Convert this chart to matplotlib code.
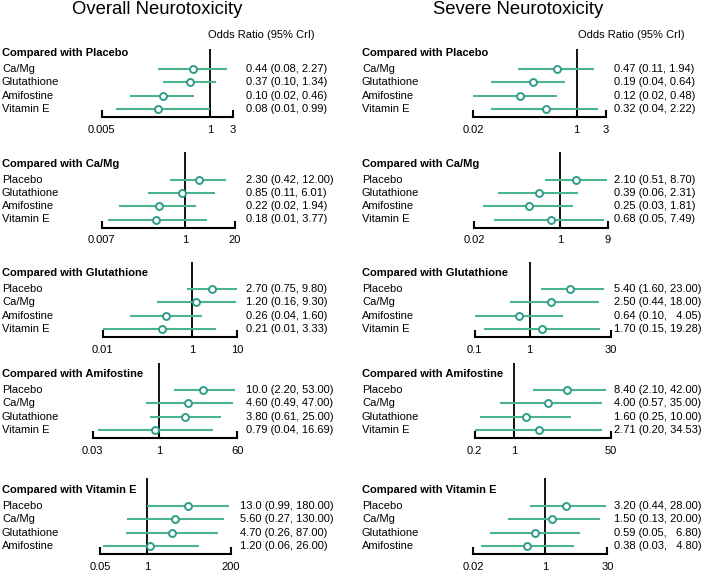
import matplotlib
matplotlib.use("Agg")
import matplotlib.pyplot as plt
import matplotlib.transforms as mtransforms

plt.rcParams['font.family'] = ['Liberation Sans', 'DejaVu Sans']

W, H = 708, 574
LINE_C = '#4cb48a'
MARK_C = '#2f9c8c'

# ---- data ----
overall_groups = ['Placebo', 'Ca/Mg', 'Glutathione', 'Amifostine', 'Vitamin E']
overall_rows = [
    ['Ca/Mg', 'Glutathione', 'Amifostine', 'Vitamin E'],
    ['Placebo', 'Glutathione', 'Amifostine', 'Vitamin E'],
    ['Placebo', 'Ca/Mg', 'Amifostine', 'Vitamin E'],
    ['Placebo', 'Ca/Mg', 'Glutathione', 'Vitamin E'],
    ['Placebo', 'Ca/Mg', 'Glutathione', 'Amifostine'],
]
overall_or = [
    [0.44, 0.37, 0.10, 0.08],
    [2.30, 0.85, 0.22, 0.18],
    [2.70, 1.20, 0.26, 0.21],
    [10.0, 4.60, 3.80, 0.79],
    [13.0, 5.60, 4.70, 1.20],
]
overall_lo = [
    [0.08, 0.10, 0.02, 0.01],
    [0.42, 0.11, 0.02, 0.01],
    [0.75, 0.16, 0.04, 0.01],
    [2.20, 0.49, 0.61, 0.04],
    [0.99, 0.27, 0.26, 0.06],
]
overall_hi = [
    [2.27, 1.34, 0.46, 0.99],
    [12.00, 6.01, 1.94, 3.77],
    [9.80, 9.30, 1.60, 3.33],
    [53.00, 47.00, 25.00, 16.69],
    [180.00, 130.00, 87.00, 26.00],
]
overall_txt = [
    ['0.44 (0.08, 2.27)', '0.37 (0.10, 1.34)', '0.10 (0.02, 0.46)', '0.08 (0.01, 0.99)'],
    ['2.30 (0.42, 12.00)', '0.85 (0.11, 6.01)', '0.22 (0.02, 1.94)', '0.18 (0.01, 3.77)'],
    ['2.70 (0.75, 9.80)', '1.20 (0.16, 9.30)', '0.26 (0.04, 1.60)', '0.21 (0.01, 3.33)'],
    ['10.0 (2.20, 53.00)', '4.60 (0.49, 47.00)', '3.80 (0.61, 25.00)', '0.79 (0.04, 16.69)'],
    ['13.0 (0.99, 180.00)', '5.60 (0.27, 130.00)', '4.70 (0.26, 87.00)', '1.20 (0.06, 26.00)'],
]
overall_ticks = [(0.005, 3), (0.007, 20), (0.01, 10), (0.03, 60), (0.05, 200)]
overall_ticklabels = [('0.005', '3'), ('0.007', '20'), ('0.01', '10'), ('0.03', '60'), ('0.05', '200')]

severe_or = [
    [0.47, 0.19, 0.12, 0.32],
    [2.10, 0.39, 0.25, 0.68],
    [5.40, 2.50, 0.64, 1.70],
    [8.40, 4.00, 1.60, 2.71],
    [3.20, 1.50, 0.59, 0.38],
]
severe_lo = [
    [0.11, 0.04, 0.02, 0.04],
    [0.51, 0.06, 0.03, 0.05],
    [1.60, 0.44, 0.10, 0.15],
    [2.10, 0.57, 0.25, 0.20],
    [0.44, 0.13, 0.05, 0.03],
]
severe_hi = [
    [1.94, 0.64, 0.48, 2.22],
    [8.70, 2.31, 1.81, 7.49],
    [23.00, 18.00, 4.05, 19.28],
    [42.00, 35.00, 10.00, 34.53],
    [28.00, 20.00, 6.80, 4.80],
]
severe_txt = [
    ['0.47 (0.11, 1.94)', '0.19 (0.04, 0.64)', '0.12 (0.02, 0.48)', '0.32 (0.04, 2.22)'],
    ['2.10 (0.51, 8.70)', '0.39 (0.06, 2.31)', '0.25 (0.03, 1.81)', '0.68 (0.05, 7.49)'],
    ['5.40 (1.60, 23.00)', '2.50 (0.44, 18.00)', '0.64 (0.10,   4.05)', '1.70 (0.15, 19.28)'],
    ['8.40 (2.10, 42.00)', '4.00 (0.57, 35.00)', '1.60 (0.25, 10.00)', '2.71 (0.20, 34.53)'],
    ['3.20 (0.44, 28.00)', '1.50 (0.13, 20.00)', '0.59 (0.05,   6.80)', '0.38 (0.03,   4.80)'],
]
severe_ticks = [(0.02, 3), (0.02, 9), (0.1, 30), (0.2, 50), (0.02, 30)]
severe_ticklabels = [('0.02', '3'), ('0.02', '9'), ('0.1', '30'), ('0.2', '50'), ('0.02', '30')]

# ---- layout (pixels) ----
axis_y = [117, 227.5, 337, 438, 554]
vtop_gap = [3.7, 11.5, 11.5, 11.5, 12.5]
ROW_H = 13.3
left_x = [(101.7, 232.7), (101.7, 235), (102.7, 237.3), (92.7, 237.3), (100, 231)]
right_x = [(473, 605.7), (474, 608), (474.7, 610.7), (474.7, 610.7), (473.3, 607.3)]

fig = plt.figure(figsize=(W / 100, H / 100), dpi=100)


def panel(i, xpx, label_x, txt_x, group, rows, orv, lov, hiv, txt, ticks, ticklabels):
    y_bot = 3 + 8 / ROW_H
    y_head = -16 / ROW_H
    y_top = y_head - vtop_gap[i] / ROW_H
    h_px = (y_bot - y_top) * ROW_H
    x0, x1 = xpx
    ax = fig.add_axes([x0 / W, 1 - axis_y[i] / H, (x1 - x0) / W, h_px / H])
    ax.set_xscale('log')
    ax.set_xlim(ticks[0], ticks[1])
    ax.set_ylim(y_bot, y_top)
    for s in ['top', 'right', 'left']:
        ax.spines[s].set_visible(False)
    ax.spines['bottom'].set_linewidth(1.5)
    ax.set_yticks([])
    ax.set_xticks([ticks[0], 1, ticks[1]])
    ax.set_xticklabels([ticklabels[0], '1', ticklabels[1]])
    ax.xaxis.set_minor_locator(matplotlib.ticker.NullLocator())
    ax.tick_params(axis='x', direction='in', length=5, width=1.5, labelsize=8, pad=5.5)
    ax.axvline(1, color='black', lw=1.3, zorder=1)
    ax.patch.set_visible(False)
    ys = list(range(len(rows)))
    ax.hlines(ys, lov, hiv, color=LINE_C, lw=1.5, zorder=2)
    ax.plot(orv, ys, 'o', ms=5, mfc='white', mec=MARK_C, mew=1.4, zorder=3)
    tr = mtransforms.blended_transform_factory(fig.transFigure, ax.transData)
    ax.text(label_x / W, y_head, 'Compared with ' + group, transform=tr,
            fontsize=8, fontweight='bold', va='center', ha='left', clip_on=False)
    for y, r, t in zip(ys, rows, txt):
        ax.text(label_x / W, y, r, transform=tr, fontsize=8, va='center', ha='left')
        ax.text(txt_x / W, y, t, transform=tr, fontsize=8, va='center', ha='left')
    return ax


for i in range(5):
    tx_l = 240.5 if i == 4 else 246.5
    panel(i, left_x[i], 2, tx_l, overall_groups[i], overall_rows[i],
          overall_or[i], overall_lo[i], overall_hi[i], overall_txt[i],
          overall_ticks[i], overall_ticklabels[i])
    panel(i, right_x[i], 362, 613.5, overall_groups[i], overall_rows[i],
          severe_or[i], severe_lo[i], severe_hi[i], severe_txt[i],
          severe_ticks[i], severe_ticklabels[i])

fig.text(156.7 / W, 1 - 10 / H, 'Overall Neurotoxicity', fontsize=13.3, ha='center', va='center')
fig.text(518 / W, 1 - 10 / H, 'Severe Neurotoxicity', fontsize=13.3, ha='center', va='center')
fig.text(261.7 / W, 1 - 35.5 / H, 'Odds Ratio (95% CrI)', fontsize=8, ha='center', va='center')
fig.text(631.7 / W, 1 - 35.5 / H, 'Odds Ratio (95% CrI)', fontsize=8, ha='center', va='center')

fig.savefig('out.png', dpi=100)
